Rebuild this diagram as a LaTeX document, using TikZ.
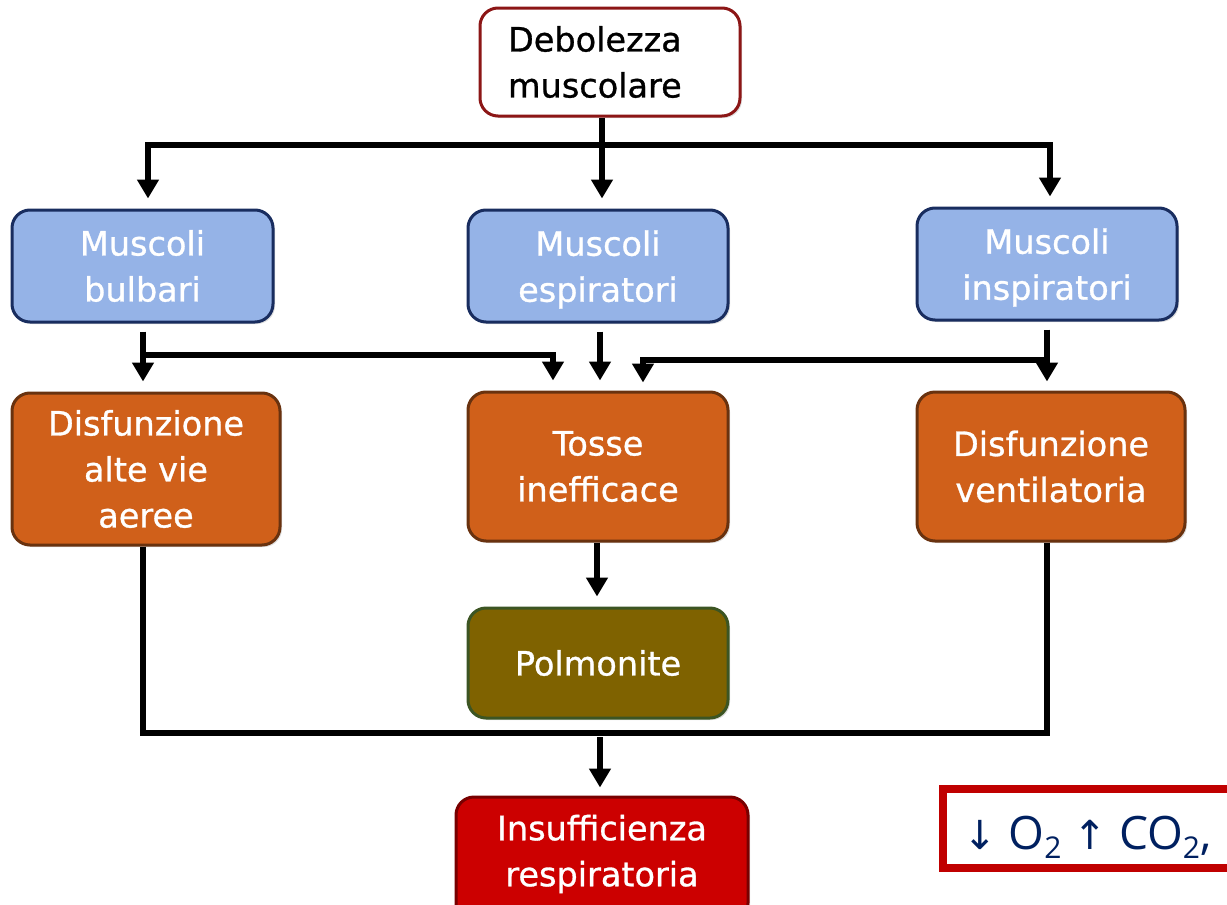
\documentclass[tikz,border=0pt]{standalone}
\usepackage{fontspec}
\setmainfont{DejaVu Sans}[BoldFont=DejaVu Sans, BoldFeatures={FakeBold=0.9}]
\newfontfamily\opensans{Open Sans}
\newfontfamily\dejavu{DejaVu Sans}
\usetikzlibrary{arrows.meta,shadows}
\definecolor{bluefill}{RGB}{149,179,231}
\definecolor{bluelight}{RGB}{190,212,245}
\definecolor{blueedge}{RGB}{25,45,95}
\definecolor{orfill}{RGB}{208,96,26}
\definecolor{orlight}{RGB}{235,130,60}
\definecolor{oredge}{RGB}{105,50,15}
\definecolor{olfill}{RGB}{127,98,0}
\definecolor{ollight}{RGB}{155,125,30}
\definecolor{oledge}{RGB}{60,85,35}
\definecolor{rdfill}{RGB}{204,0,0}
\definecolor{rdlight}{RGB}{230,60,60}
\definecolor{rdedge}{RGB}{120,0,0}
\definecolor{topedge}{RGB}{140,22,22}
\definecolor{frame}{RGB}{192,0,0}
\definecolor{navy}{RGB}{0,32,96}
\pgfdeclareverticalshading{blueshade}{100bp}{color(0bp)=(bluefill); color(86bp)=(bluefill); color(96bp)=(bluelight); color(100bp)=(bluelight)}
\pgfdeclareverticalshading{orshade}{100bp}{color(0bp)=(orfill); color(88bp)=(orfill); color(96bp)=(orlight); color(100bp)=(orlight)}
\pgfdeclareverticalshading{olshade}{100bp}{color(0bp)=(olfill); color(86bp)=(olfill); color(96bp)=(ollight); color(100bp)=(ollight)}
\pgfdeclareverticalshading{rdshade}{100bp}{color(0bp)=(rdfill); color(86bp)=(rdfill); color(96bp)=(rdlight); color(100bp)=(rdlight)}
\tikzset{
  boxbase/.style={rounded corners=18pt, line width=3pt, align=center, text=white,
    font=\fontsize{33.5}{46}\selectfont\bfseries, inner sep=0pt,
    drop shadow={opacity=0.25, shadow xshift=2pt, shadow yshift=-2pt}},
  bluebox/.style={boxbase, shade, shading=blueshade, draw=blueedge},
  orbox/.style={boxbase, shade, shading=orshade, draw=oredge},
  olbox/.style={boxbase, shade, shading=olshade, draw=oledge},
  rdbox/.style={boxbase, shade, shading=rdshade, draw=rdedge},
  topbox/.style={rounded corners=18pt, line width=3pt, draw=topedge, fill=white,
    font=\fontsize{33.5}{46}\selectfont\bfseries, align=left, text width=204pt, inner xsep=28pt, inner ysep=0pt,
    minimum height=108pt, drop shadow={opacity=0.25, shadow xshift=2pt, shadow yshift=-2pt}},
  conn/.style={line width=5.5pt, black},
  arr/.style={conn, -{Triangle[width=21pt,length=19pt]}},
}
\begin{document}
\begin{tikzpicture}[x=1pt,y=-1pt]
\useasboundingbox (0,0) rectangle (1227,905);
\clip (0,0) rectangle (1227,905);
% nodes
\node[topbox] (top) at (610,62) {Debolezza\\muscolare};
\node[bluebox, minimum width=261pt, minimum height=112pt] (b1) at (142.5,266) {Muscoli\\bulbari};
\node[bluebox, minimum width=260pt, minimum height=112pt] (b2) at (598,266) {Muscoli\\\raisebox{0pt}[\height][0pt]{espiratori}};
\node[bluebox, minimum width=260pt, minimum height=112pt] (b3) at (1047,264) {Muscoli\\\raisebox{0pt}[\height][0pt]{inspiratori}};
\node[orbox, minimum width=268pt, minimum height=152pt] (o1) at (146,469) {Disfunzione\\alte vie\\aeree};
\node[orbox, minimum width=260pt, minimum height=149pt] (o2) at (598,466.5) {Tosse\\inefficace};
\node[orbox, minimum width=268pt, minimum height=149pt] (o3) at (1051,466.5) {Disfunzione\\ventilatoria};
\node[olbox, minimum width=260pt, minimum height=110pt] (pol) at (598,663) {Polmonite};
\node[rdbox, minimum width=292pt, minimum height=124pt] (ins) at (602,859) {};
\node[text=white, font=\fontsize{33.5}{46}\selectfont\bfseries, align=center] (inslab) at (602,854) {Insufficienza\\respiratoria};
\node[draw=frame, line width=8pt, minimum width=310pt, minimum height=79pt, inner sep=0pt] (gas) at (1098,828.5) {};
\node[anchor=base west, text=navy, inner sep=0pt] (gastext) at (963,849)
  {{\dejavu\fontsize{40}{40}\selectfont ↓}{\opensans\fontsize{46}{46}\selectfont\ O\raisebox{-9pt}{\fontsize{30}{30}\selectfont 2}\ }{\dejavu\fontsize{40}{40}\selectfont ↑}{\opensans\fontsize{46}{46}\selectfont\ CO\raisebox{-9pt}{\fontsize{30}{30}\selectfont 2},}};
% junction coordinates
\coordinate (t1) at (148,145);
\coordinate (t2) at (602,145);
\coordinate (t3) at (1050,145);
\coordinate (m1) at (143,355);
\coordinate (m1r) at (553,355);
\coordinate (m2) at (600,355);
\coordinate (m3) at (1047,360);
\coordinate (m3l) at (643,360);
\coordinate (p2) at (597,600);
\coordinate (j1) at (143,733);
\coordinate (j3) at (1047,733);
\coordinate (j2) at (600,733);
% connectors level 1
\draw[conn] (top.south -| t2) -- (t2);
\draw[conn, line cap=rect] (t1) -- (t3);
\draw[arr, shorten >=10pt] (t1) -- (t1 |- b1.north);
\draw[arr, shorten >=10pt] (t2) -- (t2 |- b2.north);
\draw[arr, shorten >=10pt] (t3) -- (t3 |- b3.north);
% level 2
\draw[arr, shorten <=8pt, shorten >=10pt] (b1.south -| m1) -- (m1 |- o1.north);
\draw[conn, line cap=rect] (m1) -- (m1r);
\draw[arr, shorten >=10pt] (m1r) -- (m1r |- o2.north);
\draw[arr, shorten <=8pt, shorten >=10pt] (b2.south -| m2) -- (o2.north -| m2);
\draw[arr, shorten <=8pt, shorten >=9pt] (b3.south -| m3) -- (m3 |- o3.north);
\draw[conn, line cap=rect] (m3) -- (m3l);
\draw[arr, shorten >=8pt] (m3l) -- (m3l |- o2.north);
% level 3
\draw[arr, shorten >=10pt] (o2.south -| p2) -- (pol.north -| p2);
\draw[conn] (o1.south -| j1) -- (j1);
\draw[conn] (o3.south -| j3) -- (j3);
\draw[conn, line cap=rect] (j1) -- (j3);
\draw[arr, shorten <=4pt, shorten >=8pt] (j2) -- (j2 |- ins.north);
\end{tikzpicture}
\end{document}
